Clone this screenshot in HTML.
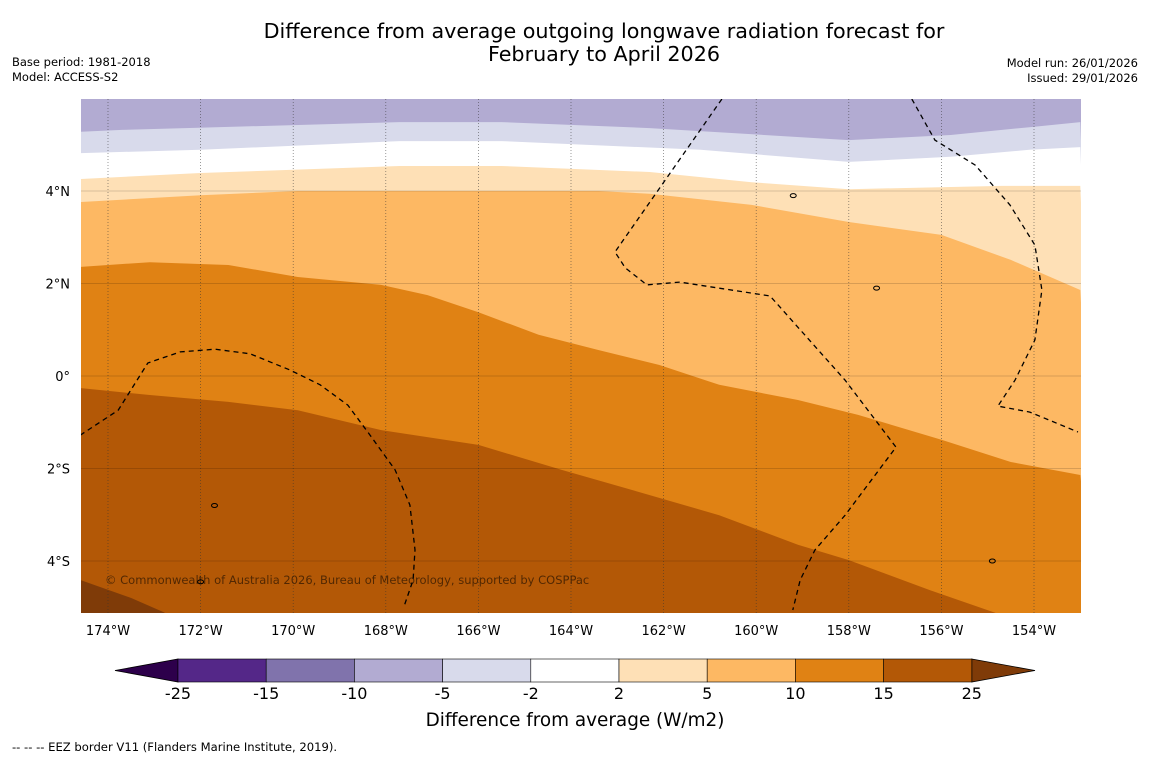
<!DOCTYPE html>
<html><head><meta charset="utf-8"><style>
body{margin:0;background:#fff;width:1150px;height:758px;overflow:hidden;font-family:"Liberation Sans",sans-serif}
svg text{font-family:"DejaVu Sans","Liberation Sans",sans-serif}
</style></head><body>
<svg id="chart" width="1150" height="758" viewBox="0 0 1150 758" xmlns="http://www.w3.org/2000/svg">
<rect width="1150" height="758" fill="#fff"/>
<text x="604" y="38" font-size="20.7" text-anchor="middle" fill="#000">Difference from average outgoing longwave radiation forecast for</text>
<text x="604" y="61" font-size="20.7" text-anchor="middle" fill="#000">February to April 2026</text>
<text x="12" y="66" font-size="11.5">Base period: 1981-2018</text>
<text x="12" y="81" font-size="11.5">Model: ACCESS-S2</text>
<text x="1138" y="67" font-size="11.5" text-anchor="end">Model run: 26/01/2026</text>
<text x="1138" y="82" font-size="11.5" text-anchor="end">Issued: 29/01/2026</text>
<defs><clipPath id="mapclip"><rect x="81" y="99" width="1000" height="514"/></clipPath></defs>
<g id="map" clip-path="url(#mapclip)"></g>
<g id="axes"></g>
<g id="cbar"></g>
<text x="575" y="726" font-size="18.4" text-anchor="middle">Difference from average (W/m2)</text>
<text x="12" y="751" font-size="11.6">--  --  -- EEZ border V11 (Flanders Marine Institute, 2019).</text>
</svg>
<script>
// contour boundaries (lon, lat)
const b1Lon=[-174.6,-173.7,-167.7,-165.5,-162.3,-158.0,-155.8,-154.1,-153.0];
const b1Lat=[5.28,5.32,5.49,5.49,5.36,5.10,5.21,5.38,5.49];
const b2Lon=[-174.6,-172.0,-167.7,-165.5,-161.2,-158.0,-155.8,-154.1,-153.0];
const b2Lat=[4.82,4.89,5.08,5.08,4.89,4.63,4.74,4.89,4.95];
const b3Lon=[-174.6,-172.0,-167.7,-165.5,-162.3,-160.1,-158.0,-154.7,-153.0];
const b3Lat=[4.26,4.39,4.54,4.54,4.41,4.19,4.04,4.11,4.11];
const b4Lon=[-174.6,-172.0,-169.9,-163.4,-162.3,-160.1,-158.0,-156.0,-154.5,-153.0];
const b4Lat=[3.76,3.91,4.0,4.0,3.94,3.70,3.33,3.05,2.51,1.86];
const b5Lon=[-174.6,-173.1,-171.4,-169.9,-168.1,-167.1,-166.0,-164.7,-163.4,-162.1,-160.8,-159.1,-157.8,-156.0,-154.5,-153.0];
const b5Lat=[2.36,2.46,2.40,2.14,1.97,1.75,1.38,0.89,0.56,0.24,-0.19,-0.52,-0.84,-1.38,-1.86,-2.14];
const b6Lon=[-174.6,-173.1,-171.4,-169.9,-168.1,-166.0,-164.2,-162.7,-160.8,-159.1,-158.0,-156.25,-154.84,-153.0];
const b6Lat=[-0.26,-0.41,-0.56,-0.74,-1.17,-1.49,-2.03,-2.46,-3.01,-3.65,-3.98,-4.63,-5.12,-5.92];
const b7Lon=[-174.6,-173.5,-172.77];
const b7Lat=[-4.41,-4.80,-5.12];
const bandColors=['#b2abd2','#d8daeb','#ffffff','#fee0b6','#fdb863','#e08214','#b35806','#7f3b08'];
// EEZ dashed borders
const eezALon=[-160.74,-163.05,-162.83,-162.36,-161.65,-159.70,-158.08,-156.98,-158.08,-158.73,-159.05,-159.21];
const eezALat=[5.99,2.68,2.34,1.97,2.03,1.73,-0.09,-1.54,-3.01,-3.76,-4.41,-5.06];
const eezBLon=[-156.64,-156.14,-155.27,-154.52,-153.98,-153.83,-153.98,-154.41,-154.78,-154.09,-153.05];
const eezBLat=[5.99,5.10,4.56,3.70,2.83,1.86,0.78,-0.09,-0.65,-0.78,-1.21];
const eezCLon=[-174.6,-173.78,-173.14,-172.44,-171.69,-170.93,-170.07,-169.42,-168.82,-168.34,-167.80,-167.48,-167.37,-167.41,-167.61];
const eezCLat=[-1.28,-0.74,0.28,0.52,0.58,0.48,0.13,-0.19,-0.63,-1.28,-2.03,-2.79,-3.76,-4.41,-4.99];
const lonTicks=[-174,-172,-170,-168,-166,-164,-162,-160,-158,-156,-154];
const lonLabels=['174°W','172°W','170°W','168°W','166°W','164°W','162°W','160°W','158°W','156°W','154°W'];
const latTicks=[4,2,0,-2,-4];
const latLabels=['4°N','2°N','0°','2°S','4°S'];
const cbarColors=['#542788','#8073ac','#b2abd2','#d8daeb','#ffffff','#fee0b6','#fdb863','#e08214','#b35806'];
const cbarLabels=['-25','-15','-10','-5','-2','2','5','10','15','25'];

const NS='http://www.w3.org/2000/svg';
const X=lon=>108+(lon+174)*46.3;
const Y=lat=>191-(lat-4)*46.25;
function mk(tag,attrs,parent){const e=document.createElementNS(NS,tag);for(const k in attrs)e.setAttribute(k,attrs[k]);parent.appendChild(e);return e;}
const map=document.getElementById('map');
const bg=mk('rect',{x:81,y:99,width:1000,height:514,fill:bandColors[0]},map);


const bounds=[[b1Lon,b1Lat],[b2Lon,b2Lat],[b3Lon,b3Lat],[b4Lon,b4Lat],[b5Lon,b5Lat],[b6Lon,b6Lat]];
const bandNames=['band-minus5-minus2','band-minus2-2','band-2-5','band-5-10','band-10-15','band-15-25'];
bounds.forEach((b,i)=>{
  let d='M'+b[0].map((lo,j)=>X(lo).toFixed(1)+','+Y(b[1][j]).toFixed(1)).join('L');
  d+='L1100,650L60,650Z';
  const p=mk('path',{d:d,fill:bandColors[i+1]},map);
  
  
});
{
  let d='M60,'+Y(b7Lat[0]).toFixed(1)+'L'+b7Lon.map((lo,j)=>X(lo).toFixed(1)+','+Y(b7Lat[j]).toFixed(1)).join('L')+'L60,650Z';
  const p=mk('path',{d:d,fill:bandColors[7]},map);
  
  
}
// grid
lonTicks.forEach(lo=>{
  const l=mk('line',{x1:X(lo),x2:X(lo),y1:99,y2:613,stroke:'#333','stroke-width':0.7,'stroke-dasharray':'1,2','stroke-opacity':0.7},map);
  
  
});
latTicks.forEach(la=>{
  const l=mk('line',{x1:81,x2:1081,y1:Y(la),y2:Y(la),stroke:'#000','stroke-width':0.6,'stroke-opacity':0.3},map);
  
  
});
// EEZ
[[eezALon,eezALat,'eez-border-a'],[eezBLon,eezBLat,'eez-border-b'],[eezCLon,eezCLat,'eez-border-c']].forEach(e=>{
  const pts=e[0].map((lo,j)=>X(lo).toFixed(1)+','+Y(e[1][j]).toFixed(1)).join(' ');
  const p=mk('polyline',{points:pts,fill:'none',stroke:'#000','stroke-width':1.3,'stroke-dasharray':'5,4'},map);
  
  
});
// islands
[[-159.2,3.9],[-157.4,1.9],[-171.7,-2.8],[-172.0,-4.45],[-154.9,-4.0]].forEach(c=>{
  const s=mk('ellipse',{cx:X(c[0]),cy:Y(c[1]),rx:3,ry:2,fill:'none',stroke:'#000','stroke-width':1},map);
  
  
});
const cp=mk('text',{x:105,y:584,'font-size':11.5,fill:'#000','fill-opacity':0.55},map);
cp.textContent='© Commonwealth of Australia 2026, Bureau of Meteorology, supported by COSPPac';


// axis labels
const axes=document.getElementById('axes');
lonTicks.forEach((lo,i)=>{
  const t=mk('text',{x:X(lo),y:635,'font-size':13,'text-anchor':'middle'},axes);
  t.textContent=lonLabels[i];
  
  
});
latTicks.forEach((la,i)=>{
  const t=mk('text',{x:70,y:Y(la)+5,'font-size':13,'text-anchor':'end'},axes);
  t.textContent=latLabels[i];
  
  
});
// colorbar
const cb=document.getElementById('cbar');
const cx0=178,cw=88.2,cy=659,ch=23;
const lt=mk('polygon',{points:`115,${cy+ch/2} ${cx0},${cy} ${cx0},${cy+ch}`,fill:'#2d004b',stroke:'#000','stroke-width':0.8},cb);


const endX=cx0+cw*cbarColors.length;
const rt=mk('polygon',{points:`${endX},${cy} 1035,${cy+ch/2} ${endX},${cy+ch}`,fill:'#7f3b08',stroke:'#000','stroke-width':0.8},cb);


cbarColors.forEach((c,i)=>{
  const r=mk('rect',{x:cx0+i*cw,y:cy,width:cw,height:ch,fill:c,stroke:'#000','stroke-width':0.6},cb);
  
  
});
cbarLabels.forEach((s,i)=>{
  const t=mk('text',{x:cx0+i*cw,y:699,'font-size':16,'text-anchor':'middle'},cb);
  t.textContent=s;
  
  
});
</script>
</body></html>
